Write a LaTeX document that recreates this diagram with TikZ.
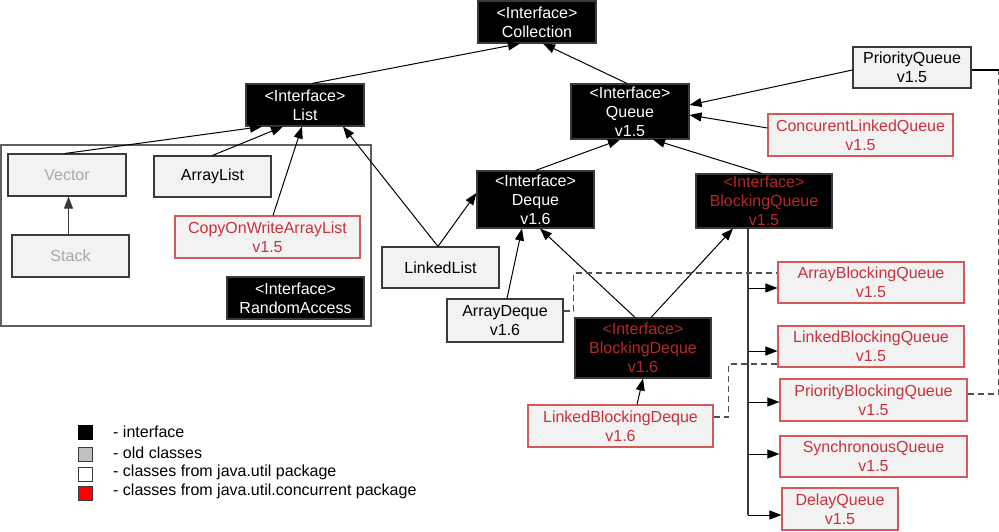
\documentclass[tikz,border=0pt]{standalone}
\usepackage{fontspec}
\setmainfont{Liberation Sans}
\usetikzlibrary{arrows.meta}
\definecolor{boxfill}{HTML}{F2F2F2}
\definecolor{boxdraw}{HTML}{3A3A3A}
\definecolor{oldtext}{HTML}{A8A8A8}
\definecolor{redtext}{HTML}{C8323C}
\definecolor{reddraw}{HTML}{D45A5A}
\definecolor{redint}{HTML}{B82828}
\definecolor{dashcol}{HTML}{505050}
\definecolor{contcol}{HTML}{606060}
\definecolor{lggray}{HTML}{C0C0C0}
\begin{document}
\begin{tikzpicture}[x=1pt,y=-1pt,
  base/.style={rectangle, align=center, inner sep=1pt, line width=1.1pt, font=\fontsize{16}{18.8}\selectfont},
  iface/.style={base, fill=black, draw=boxdraw, text=white},
  riface/.style={base, fill=black, draw=boxdraw, text=redint},
  cls/.style={base, fill=boxfill, draw=boxdraw, text=black},
  oldcls/.style={base, fill=boxfill, draw=boxdraw, text=oldtext},
  ccls/.style={base, fill=boxfill, draw=reddraw, text=redtext},
  sz/.style 2 args={minimum width=#1pt, minimum height=#2pt},
  inh/.style={line width=1pt, -{Triangle[length=12pt,width=9pt]}},
  trunkline/.style={line width=1.2pt, draw=boxdraw},
  dashline/.style={dashcol, line width=1.2pt, dash pattern=on 6pt off 4pt},
  lgbox/.style={rectangle, minimum size=14pt, inner sep=0pt, line width=1pt},
  lgtext/.style={anchor=west, inner sep=0pt, font=\fontsize{16}{19}\selectfont},
]
\useasboundingbox (0,0) rectangle (999,531);

% container of list classes
\draw[contcol, line width=1.3pt] (1,145) rectangle (371,326);

% nodes
\node[iface, sz={118}{42}] (coll) at (537,22) {<Interface>\\Collection};
\node[iface, sz={118}{42}] (list) at (305,105) {<Interface>\\List};
\node[iface, sz={118}{55}] (queue) at (630,111.5) {<Interface>\\Queue\\v1.5};
\node[cls, sz={118}{41}] (pq) at (912,67.5) {PriorityQueue\\v1.5};
\node[ccls, sz={185}{42}] (clq) at (860.5,135) {ConcurentLinkedQueue\\v1.5};

\node[oldcls, sz={118}{42}] (vector) at (67,175) {Vector};
\node[cls, sz={117}{41}] (arraylist) at (212.5,176.5) {ArrayList};
\node[oldcls, sz={117}{42}] (stack) at (70.5,256) {Stack};
\node[ccls, sz={185}{42}] (cow) at (267.5,237) {CopyOnWriteArrayList\\v1.5};
\node[iface, sz={137}{42}] (ra) at (295.5,298) {<Interface>\\RandomAccess};

\node[cls, sz={117}{41}] (linkedlist) at (440.5,267.5) {LinkedList};
\node[iface, sz={117}{57}] (deque) at (535.5,199.5) {<Interface>\\Deque\\v1.6};
\node[cls, sz={116}{43}] (arraydeque) at (505,320.5) {ArrayDeque\\v1.6};
\node[riface, sz={136}{60}] (bdeque) at (643,348) {<Interface>\\BlockingDeque\\v1.6};
\node[ccls, sz={185}{42}] (lbd) at (620.5,426) {LinkedBlockingDeque\\v1.6};
\node[riface, sz={136}{54}] (bq) at (764,201) {<Interface>\\BlockingQueue\\v1.5};

\node[ccls, sz={186}{41}] (abq) at (871,282.5) {ArrayBlockingQueue\\v1.5};
\node[ccls, sz={186}{41}] (lbq) at (871,346.5) {LinkedBlockingQueue\\v1.5};
\node[ccls, sz={187}{42}] (pbq) at (873.5,400) {PriorityBlockingQueue\\v1.5};
\node[ccls, sz={187}{41}] (sq) at (873.5,456.5) {SynchronousQueue\\v1.5};
\node[ccls, sz={116}{42}] (dq) at (840,509) {DelayQueue\\v1.5};

% inheritance arrows
\draw[inh] ([xshift=7]list.north) -- ([xshift=-17]coll.south);
\draw[inh] ([xshift=-3]queue.north) -- ([xshift=6]coll.south);
\draw[inh] ([yshift=-2.5]pq.west) -- ([yshift=6.5]queue.east);
\draw[inh] ([yshift=7]clq.west) -- ([yshift=-3.5]queue.east);
\draw[inh] (deque.north) -- ([xshift=-10]queue.south);
\draw[inh] ([xshift=-2]bq.north) -- ([xshift=23]queue.south);
\draw[inh] ([xshift=-2]vector.north) -- ([xshift=-43]list.south);
\draw[inh] (arraylist.north) -- ([xshift=-22]list.south);
\draw[inh] ([xshift=5.5]cow.north) -- ([xshift=-3]list.south);
\draw[inh] ([xshift=-2.5]linkedlist.north) -- ([xshift=38]list.south);
\draw[inh] ([xshift=-2.5]linkedlist.north) -- ([yshift=6.5]deque.west);
\draw[inh, draw=boxdraw] ([xshift=-2]stack.north) -- ([xshift=-2]stack.north |- vector.south);
\draw[inh] ([xshift=2]arraydeque.north) -- ([xshift=-13.5]deque.south);
\draw[inh] ([xshift=-8]bdeque.north) -- ([xshift=4.5]deque.south);
\draw[inh] ([xshift=8]bdeque.north) -- ([xshift=-31]bq.south);
\draw[inh] ([xshift=16.5]lbd.north) -- (bdeque.south);

% trunk from BlockingQueue
\coordinate (tt) at ([xshift=-16]bq.south);
\coordinate (e1) at ([yshift=-5.5]abq.west);
\coordinate (e2) at ([yshift=-4.5]lbq.west);
\coordinate (e3) at ([yshift=-2]pbq.west);
\coordinate (e4) at ([yshift=2.5]sq.west);
\coordinate (e5) at ([yshift=-6]dq.west);
\draw[trunkline] (tt) -- (tt |- e5);
\draw[inh] (tt |- e1) -- (e1);
\draw[inh] (tt |- e2) -- (e2);
\draw[inh] (tt |- e3) -- (e3);
\draw[inh] (tt |- e4) -- (e4);
\draw[inh] (tt |- e5) -- (e5);

% dashed links
\draw[dashline] ([yshift=9.5]arraydeque.east) -- ++(10,0) |- ([yshift=9.5]abq.west);
\draw[dashline] ([yshift=9]lbd.east) -- ++(15,0) |- ([yshift=-17.5]lbq.west);
\coordinate (pe) at ([yshift=6]pbq.east);
\coordinate (pk) at ([xshift=31]pe);
\coordinate (qe) at ([yshift=-2.5]pq.east);
\draw[dashline] (pe) -- (pk) -- (pk |- qe);
\draw[line width=1.2pt, draw=black] (pk |- qe) -- (qe);

% legend
\node[lgbox, fill=black, draw=black] (lg1) at (85,432) {};
\node[lgbox, fill=lggray, draw=boxdraw] (lg2) at (85,454) {};
\node[lgbox, fill=white, draw=boxdraw] (lg3) at (85,474) {};
\node[lgbox, fill=red, draw=boxdraw] (lg4) at (85,493) {};
\node[lgtext] (lt1) at (113,432) {- interface};
\node[lgtext] (lt2) at (113,453) {- old classes};
\node[lgtext] (lt3) at (113,472) {- classes from java.util package};
\node[lgtext] (lt4) at (113,491) {- classes from java.util.concurrent package};
\end{tikzpicture}
\end{document}
